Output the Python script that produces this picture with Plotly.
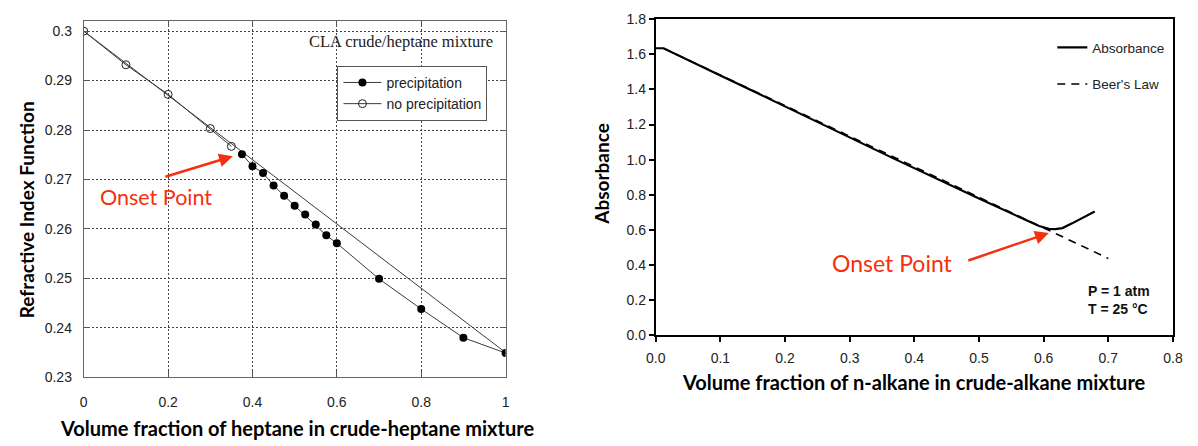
import plotly.graph_objects as go

W, H = 1198, 446

# ---------------- Left chart data ----------------
nop_x = [0.0, 0.1, 0.2, 0.3, 0.35]
nop_y = [0.3000, 0.2932, 0.2872, 0.2803, 0.2767]
pre_x = [0.375, 0.4, 0.425, 0.45, 0.475, 0.5, 0.525, 0.55, 0.575, 0.6, 0.7, 0.8, 0.9, 1.0]
pre_y = [0.2751, 0.2727, 0.2713, 0.2688, 0.2667, 0.2647, 0.2629, 0.2609, 0.2587, 0.2571,
         0.2499, 0.2438, 0.2380, 0.2349]
ideal_x = [0.0, 1.0]
ideal_y = [0.3000, 0.2350]
left_xticks = [0, 0.2, 0.4, 0.6, 0.8, 1.0]
left_xlabels = ["0", "0.2", "0.4", "0.6", "0.8", "1"]
left_yticks = [0.23, 0.24, 0.25, 0.26, 0.27, 0.28, 0.29, 0.30]
left_ylabels = ["0.23", "0.24", "0.25", "0.26", "0.27", "0.28", "0.29", "0.3"]

# ---------------- Right chart data ----------------
abs_x = [0.0, 0.012, 0.1, 0.2, 0.294, 0.37, 0.5, 0.573, 0.593, 0.608, 0.618, 0.629, 0.644, 0.679]
abs_y = [1.635, 1.635, 1.480, 1.302, 1.135, 1.003, 0.778, 0.652, 0.622, 0.606, 0.604, 0.610, 0.637, 0.705]
beer_x = [0.012, 0.70]
beer_y = [1.635, 0.437]
right_xticks = [0.0, 0.1, 0.2, 0.3, 0.4, 0.5, 0.6, 0.7, 0.8]
right_yticks = [0.0, 0.2, 0.4, 0.6, 0.8, 1.0, 1.2, 1.4, 1.6, 1.8]


def px(x):
    return x / W


def py(y):
    return 1 - y / H


fig = go.Figure()

# Left traces
fig.add_trace(go.Scatter(x=ideal_x, y=ideal_y, mode="lines", line=dict(color="#3a3a3a", width=1),
                         showlegend=False, xaxis="x", yaxis="y", hoverinfo="skip"))
fig.add_trace(go.Scatter(x=pre_x, y=pre_y, mode="lines+markers", name="precipitation",
                         line=dict(color="#3a3a3a", width=1),
                         marker=dict(symbol="circle", size=8, color="black"),
                         xaxis="x", yaxis="y", legend="legend"))
fig.add_trace(go.Scatter(x=nop_x, y=nop_y, mode="lines+markers", name="no precipitation",
                         line=dict(color="#3a3a3a", width=1),
                         marker=dict(symbol="circle-open", size=8, color="#222", line=dict(width=1)),
                         xaxis="x", yaxis="y", legend="legend"))

# Right traces
fig.add_trace(go.Scatter(x=beer_x, y=beer_y, mode="lines", name="Beer's Law",
                         line=dict(color="black", width=1.6, dash="8px,6px"),
                         xaxis="x2", yaxis="y2", legend="legend2", legendgroup="b", legendrank=2))
fig.add_trace(go.Scatter(x=abs_x, y=abs_y, mode="lines", name="Absorbance",
                         line=dict(color="black", width=2.2),
                         xaxis="x2", yaxis="y2", legend="legend2", legendgroup="a", legendrank=1))

tickfont = dict(family="Liberation Sans, Arial", size=14, color="#222")

fig.update_layout(
    width=W, height=H,
    margin=dict(l=0, r=0, t=0, b=0),
    paper_bgcolor="white", plot_bgcolor="white",
    showlegend=True,
    xaxis=dict(domain=[px(75), px(504)], range=[0, 1], tickvals=left_xticks, ticktext=left_xlabels,
               showgrid=True, gridcolor="#444", griddash="2px,2px", gridwidth=1,
               showline=True, linecolor="#666", linewidth=1, mirror="ticks",
               ticks="inside", ticklen=6, tickcolor="#555", tickfont=tickfont,
               ticklabelstandoff=12, zeroline=False, anchor="y"),
    yaxis=dict(domain=[py(383), py(14)], range=[0.23, 0.30195], tickvals=left_yticks, ticktext=left_ylabels,
               showgrid=True, gridcolor="#444", griddash="2px,2px", gridwidth=1,
               showline=True, linecolor="#666", linewidth=1, mirror="ticks",
               ticks="inside", ticklen=6, tickcolor="#555", tickfont=tickfont,
               ticklabelstandoff=8, zeroline=False, anchor="x"),
    xaxis2=dict(domain=[px(656.7), px(1182.7)], range=[0, 0.8], tickvals=right_xticks, tickformat=".1f",
                showgrid=False, showline=True, linecolor="black", linewidth=2, mirror=True,
                ticks="outside", ticklen=5, tickwidth=1.5, tickcolor="black", tickfont=tickfont,
                ticklabelstandoff=4, zeroline=False, anchor="y2"),
    yaxis2=dict(domain=[py(339.3), py(11.7)], range=[0, 1.8], tickvals=right_yticks, tickformat=".1f",
                showgrid=False, showline=True, linecolor="black", linewidth=2, mirror=True,
                ticks="outside", ticklen=5, tickwidth=1.5, tickcolor="black", tickfont=tickfont,
                zeroline=False, anchor="x2"),
    legend=dict(x=px(333), y=py(60), xanchor="left", yanchor="top",
                bgcolor="white", bordercolor="#555", borderwidth=1,
                font=dict(family="Liberation Sans, Arial", size=14, color="#222"),
                itemwidth=38, tracegroupgap=0),
    legend2=dict(x=px(1060), y=py(25), xanchor="left", yanchor="top",
                 bgcolor="rgba(0,0,0,0)", borderwidth=0,
                 font=dict(family="Liberation Sans, Arial", size=13.5, color="#222"),
                 itemwidth=30, traceorder="grouped", tracegroupgap=16),
)

# White box behind "Onset Point" (left) hiding grid lines
fig.add_shape(type="rect", xref="paper", yref="paper", x0=px(76), x1=px(217), y0=py(214), y1=py(157),
              fillcolor="white", line=dict(width=0), layer="between")

red = "#F4300F"
C = dict(xanchor="center", yanchor="middle", xref="paper", yref="paper", showarrow=False)
annotations = [
    # left
    dict(text="CLA crude/heptane mixture", x=px(398), y=py(35),
         font=dict(family="Liberation Serif, Times New Roman", size=16.5, color="#222"), **C),
    dict(text="Onset Point", x=px(148), y=py(196),
         font=dict(family="Lato", size=21.5, color=red), **C),
    dict(text="", x=0.3535, y=0.2747, xref="x", yref="y", ax=-69, ay=21, axref="pixel", ayref="pixel",
         showarrow=True, arrowhead=2, arrowsize=1.1, arrowwidth=2.5, arrowcolor=red),
    dict(text="Volume fraction of heptane in crude-heptane mixture", x=px(292), y=py(436),
         font=dict(family="Lato", size=20, color="black", weight="bold"), **C),
    dict(text="Refractive Index Function", x=px(17), y=py(209), textangle=-90,
         font=dict(family="Lato", size=19, color="black", weight="bold"), **C),
    # right
    dict(text="Onset Point", x=px(897), y=py(265),
         font=dict(family="Lato", size=23, color=red), **C),
    dict(text="", x=0.608, y=0.582, xref="x2", yref="y2", ax=-82, ay=28, axref="pixel", ayref="pixel",
         showarrow=True, arrowhead=2, arrowsize=1.1, arrowwidth=2.5, arrowcolor=red),
    dict(text="P = 1 atm<br>T = 25 °C", x=px(1094), y=py(303), xref="paper", yref="paper",
         xanchor="left", yanchor="middle", align="left", showarrow=False,
         font=dict(family="Liberation Sans, Arial", size=14, color="#111", weight="bold")),
    dict(text="Volume fraction of n-alkane in crude-alkane mixture", x=px(919), y=py(388),
         font=dict(family="Lato", size=20, color="black", weight="bold"), **C),
    dict(text="Absorbance", x=px(602), y=py(172), textangle=-90,
         font=dict(family="Lato", size=19, color="black", weight="bold"), **C),
]
fig.update_layout(annotations=annotations)

fig.write_html("out.html",
               post_script="document.body.style.margin='0';document.body.style.overflow='hidden';")
